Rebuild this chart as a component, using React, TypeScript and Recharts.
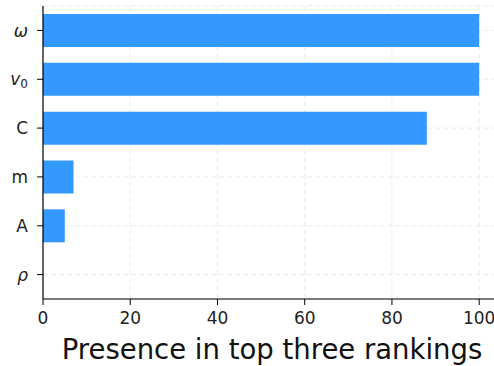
import React from "react";
import { BarChart, Bar, XAxis, YAxis, CartesianGrid } from "recharts";

// Parameter names (top to bottom) and how often each appears in the top three
const params = ["omega", "v0", "C", "m", "A", "rho"];
const presence = [100, 100, 88, 7, 5, 0];
const xTicks = [0, 20, 40, 60, 80, 100];

const data = params.map((p, i) => ({ name: p, value: presence[i] }));

const FONT = "'DejaVu Sans', sans-serif";
const TICK_FONT = 17;

// Renders the parameter symbols, italic for Greek/variables like mathtext
const ParamTick = (props: any) => {
  const { x, y, payload } = props;
  const common = {
    x: x - 7,
    y: y,
    dy: "0.36em",
    textAnchor: "end" as const,
    fontFamily: FONT,
    fontSize: TICK_FONT,
    fill: "#222",
  };
  const name = payload.value;
  if (name === "omega")
    return (
      <text {...common} fontStyle="italic">
        ω
      </text>
    );
  if (name === "rho")
    return (
      <text {...common} fontStyle="italic">
        ρ
      </text>
    );
  if (name === "v0")
    return (
      <text {...common}>
        <tspan fontStyle="italic">v</tspan>
        <tspan fontSize={12} dy="3">0</tspan>
      </text>
    );
  return <text {...common}>{name}</text>;
};

// Axis title centred under the plot area
const AxisTitle = (props: any) => {
  const { viewBox } = props;
  const cx = viewBox.x + viewBox.width / 2;
  return (
    <text
      x={cx}
      y={viewBox.y + 60}
      textAnchor="middle"
      fontFamily={FONT}
      fontSize={27.5}
      fill="#111"
    >
      Presence in top three rankings
    </text>
  );
};

export default function App() {
  return (
    <div
      style={{
        position: "absolute",
        left: 0,
        top: 0,
        width: 494,
        height: 366,
        overflow: "hidden",
        background: "#fff",
      }}
    >
      <BarChart
        layout="vertical"
        width={520}
        height={366}
        data={data}
        margin={{ top: 6, right: 19, bottom: 0, left: 0 }}
      >
        <CartesianGrid
          stroke="#e6e6e6"
          strokeDasharray="5 3"
          strokeWidth={0.8}
        />
        <XAxis
          type="number"
          domain={[0, 105]}
          ticks={xTicks}
          allowDataOverflow
          height={67}
          axisLine={{ stroke: "#000", strokeWidth: 1.2 }}
          tickLine={{ stroke: "#000", strokeWidth: 1 }}
          tickSize={6}
          tickMargin={7}
          tick={{ fontFamily: FONT, fontSize: TICK_FONT, fill: "#222" }}
          label={<AxisTitle />}
        />
        <XAxis
          xAxisId="top"
          orientation="top"
          type="number"
          domain={[0, 105]}
          height={0}
          tick={false}
          tickLine={false}
          axisLine={{ stroke: "#000", strokeWidth: 1.2 }}
        />
        <YAxis
          type="category"
          dataKey="name"
          width={43}
          axisLine={{ stroke: "#000", strokeWidth: 1.2 }}
          tickLine={{ stroke: "#000", strokeWidth: 1 }}
          tickSize={6}
          tick={<ParamTick />}
          interval={0}
        />
        <Bar
          dataKey="value"
          fill="#3399ff"
          barSize={33}
          isAnimationActive={false}
        />
      </BarChart>
    </div>
  );
}
